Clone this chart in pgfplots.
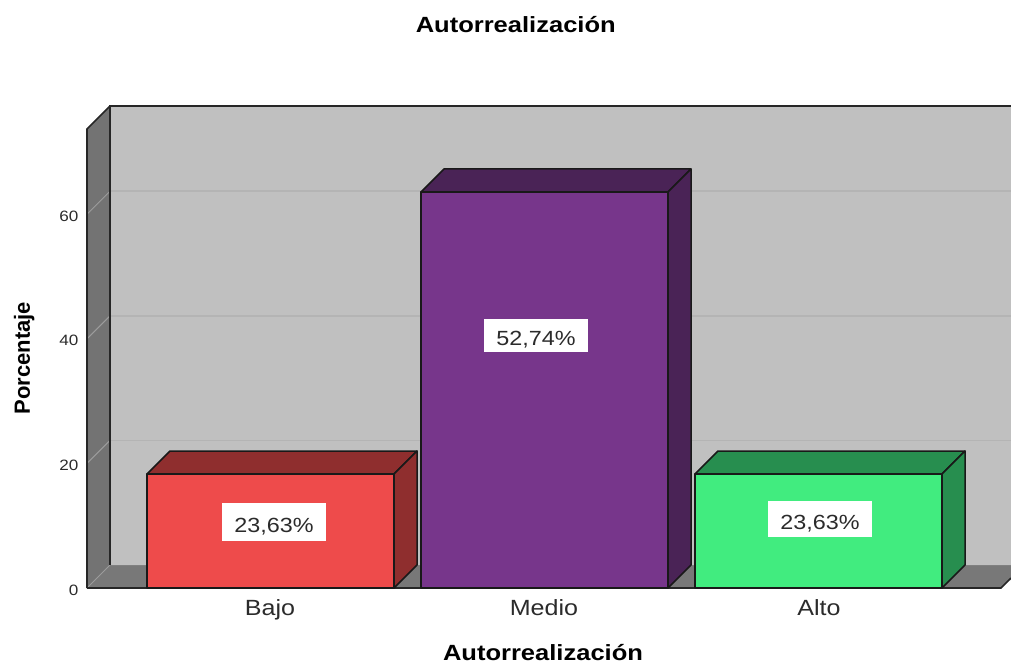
\documentclass[border=0pt]{standalone}
\usepackage{fontspec}
\setmainfont{Liberation Sans}
\newfontfamily\wide[FakeStretch=1.14]{Liberation Sans}
\newfontfamily\widb[FakeStretch=1.16]{Liberation Sans}
\usepackage{pgfplots}
\pgfplotsset{compat=1.18}
\definecolor{wall}{HTML}{C0C0C0}
\definecolor{side}{HTML}{737373}
\definecolor{flr}{HTML}{787878}
\definecolor{gridb}{HTML}{B4B4B4}
\definecolor{gridl}{HTML}{9C9C9C}
\definecolor{barr}{HTML}{EE4B4B}
\definecolor{redd}{HTML}{8F2E2E}
\definecolor{pur}{HTML}{77368B}
\definecolor{purd}{HTML}{4A2356}
\definecolor{grn}{HTML}{41EC7F}
\definecolor{grnd}{HTML}{278E4F}
\definecolor{ink}{HTML}{2B2B2B}
\pgfplotsset{
  box/.style={draw=black!90,line width=1.5pt,line join=round,mark=none}
}
\tikzset{
  vallab/.style={fill=white,text=ink,font=\wide\fontsize{20.5}{21}\selectfont,inner sep=0pt,minimum width=104pt}
}
\newcommand{\vl}[1]{\raisebox{-10.5pt}[0pt][0pt]{#1}}
\begin{document}
\begin{tikzpicture}
\path[use as bounding box] (0,0) rectangle (1011pt,662pt);
\begin{axis}[
  at={(87pt,74pt)},anchor=south west,
  scale only axis,width=924pt,height=482pt,
  xmin=87,xmax=1011,ymin=0,ymax=77.37,clip=false,
  axis line style={draw=none},major tick style={draw=none},
  xtick={270,544,819},xticklabels={Bajo,Medio,Alto},
  ytick={0,20,40,60},
  /pgf/number format/assume math mode=true,
  xticklabel style={font=\wide\fontsize{22}{22}\selectfont,text=ink,anchor=base,yshift=-27pt},
  yticklabel style={font=\wide\fontsize{15}{15}\selectfont,text=ink,anchor=east,xshift=-5pt,yshift=-2pt},
  title={\bfseries\widb\fontsize{22}{22}\selectfont Autorrealización},
  title style={at={(axis description cs:0.464,1.1575)},anchor=center,text=black},
  xlabel={\bfseries\widb\fontsize{22}{22}\selectfont Autorrealización},
  xlabel style={at={(axis description cs:0.4935,-0.133)},anchor=center,text=black,inner sep=0pt},
  ylabel={\bfseries\fontsize{22}{22}\selectfont Porcentaje},
  ylabel style={at={(axis description cs:-0.068,0.477)},anchor=center,text=black},
]
% walls and floor
\addplot[fill=wall,draw=none,mark=none] coordinates {(110,3.69)(1011,3.69)(1011,77.37)(110,77.37)} --cycle;
\addplot[fill=flr,draw=none,mark=none] coordinates {(87,0)(1001,0)(1011,1.6)(1011,3.69)(110,3.69)} --cycle;
\addplot[fill=side,draw=none,mark=none] coordinates {(87,0)(110,3.69)(110,77.37)(87,73.68)} --cycle;
% gridlines
\addplot[gridb,line width=1.5pt,mark=none] coordinates {(110,23.69)(1011,23.69)};
\addplot[gridb,line width=1.5pt,mark=none] coordinates {(110,43.69)(1011,43.69)};
\addplot[gridb,line width=1.5pt,mark=none] coordinates {(110,63.69)(1011,63.69)};
\addplot[gridl,line width=1pt,mark=none] coordinates {(87,20)(110,23.69)};
\addplot[gridl,line width=1pt,mark=none] coordinates {(87,40)(110,43.69)};
\addplot[gridl,line width=1pt,mark=none] coordinates {(87,60)(110,63.69)};
\addplot[gridl,line width=1pt,mark=none] coordinates {(87,0)(110,3.69)};
% frame lines
\addplot[black!85,line width=1.7pt,mark=none] coordinates {(110,3.69)(110,77.37)(1011,77.37)};
\addplot[black!85,line width=1.7pt,mark=none] coordinates {(87,0)(87,73.68)(110,77.37)};
\addplot[black!85,line width=1.7pt,mark=none] coordinates {(1011,1.6)(1001,0)(87,0)};
\addplot[black!50,line width=1pt,mark=none] coordinates {(110,3.69)(1011,3.69)};
% Bajo
\addplot[box,fill=redd] coordinates {(147,18.30)(170,21.99)(417,21.99)(394,18.30)} --cycle;
\addplot[box,fill=redd] coordinates {(394,0)(417,3.69)(417,21.99)(394,18.30)} --cycle;
\addplot[box,fill=barr] coordinates {(147,0)(394,0)(394,18.30)(147,18.30)} --cycle;
% Medio
\addplot[box,fill=purd] coordinates {(421,63.56)(444,67.26)(691,67.26)(668,63.56)} --cycle;
\addplot[box,fill=purd] coordinates {(668,0)(691,3.69)(691,67.26)(668,63.56)} --cycle;
\addplot[box,fill=pur] coordinates {(421,0)(668,0)(668,63.56)(421,63.56)} --cycle;
% Alto
\addplot[box,fill=grnd] coordinates {(695,18.30)(718,21.99)(965,21.99)(942,18.30)} --cycle;
\addplot[box,fill=grnd] coordinates {(942,0)(965,3.69)(965,21.99)(942,18.30)} --cycle;
\addplot[box,fill=grn] coordinates {(695,0)(942,0)(942,18.30)(695,18.30)} --cycle;
% value labels
\node[vallab,minimum height=38pt] at (axis cs:274,10.6) {\vl{23,63\%}};
\node[vallab,minimum height=33pt] at (axis cs:536,40.55) {\vl{52,74\%}};
\node[vallab,minimum height=36pt] at (axis cs:820,11.07) {\vl{23,63\%}};
\end{axis}
\end{tikzpicture}
\end{document}
